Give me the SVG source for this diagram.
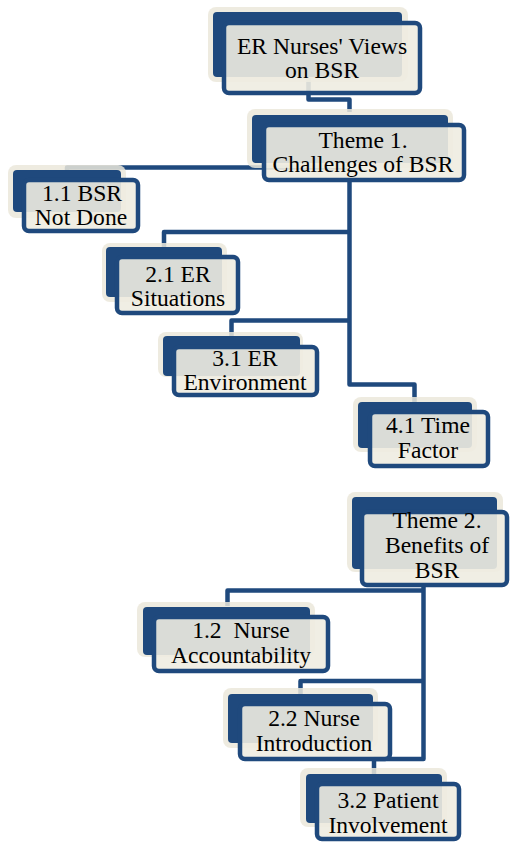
<svg xmlns="http://www.w3.org/2000/svg" width="510" height="842" viewBox="0 0 510 842">
<style>
.glow{fill:#EBE7DB;fill-opacity:0.85}
.back{fill:#1F497D}
.front{fill:#EEECE1;fill-opacity:0.9;stroke:#1F497D;stroke-width:4.5}
.conn{fill:none;stroke:#1F497D;stroke-width:4.5;stroke-linejoin:round}
.t{font-size:23.6px;fill:#000;text-anchor:middle}
</style>
<rect width="510" height="842" fill="#fff"/>
<g id="connectors">
<path class="conn" d="M308.5,78 V99.5 H349.5 V112"/>
<path class="conn" d="M349.5,167.5 H67 V178"/>
<path class="conn" d="M349.5,180 V384.5 H414.5 V402"/>
<path class="conn" d="M349.5,232 H164 V247"/>
<path class="conn" d="M349.5,320.5 H231.5 V336"/>
<path class="conn" d="M423.5,585 V759 H374 V774"/>
<path class="conn" d="M423.5,590.5 H227.5 V606"/>
<path class="conn" d="M423.5,681 H300.5 V694"/>
</g>
<g font-family="'Liberation Serif', 'Times New Roman', 'DejaVu Serif', serif">
<g id="root">
<rect class="glow" x="208" y="7" width="200" height="75" rx="8"/>
<rect class="back" x="213" y="12" width="189" height="65" rx="4"/>
<rect class="front" x="224" y="23" width="196" height="70" rx="5"/>
<text class="t" x="322" y="54">ER Nurses' Views</text>
<text class="t" x="322" y="78">on BSR</text>
</g>
<g id="theme1">
<rect class="glow" x="247" y="109" width="206" height="59" rx="8"/>
<rect class="back" x="252" y="115" width="196" height="48" rx="4"/>
<rect class="front" x="264" y="125" width="200" height="55" rx="5"/>
<text class="t" x="363" y="148">Theme 1.</text>
<text class="t" x="363" y="172">Challenges of BSR</text>
</g>
<g id="n1_1">
<rect class="glow" x="8" y="165" width="118" height="53" rx="8"/>
<rect class="back" x="13" y="170" width="108" height="42" rx="4"/>
<rect class="front" x="24" y="180" width="114" height="51" rx="5"/>
<text class="t" x="82" y="201">1.1 BSR</text>
<text class="t" x="81" y="225">Not Done</text>
</g>
<g id="n2_1">
<rect class="glow" x="102" y="243" width="125" height="59" rx="8"/>
<rect class="back" x="106" y="247" width="116" height="50" rx="4"/>
<rect class="front" x="117" y="257" width="121" height="56" rx="5"/>
<text class="t" x="178" y="282">2.1 ER</text>
<text class="t" x="178" y="306">Situations</text>
</g>
<g id="n3_1">
<rect class="glow" x="158" y="332" width="145" height="45" rx="8"/>
<rect class="back" x="163" y="336" width="137" height="40" rx="4"/>
<rect class="front" x="174" y="347" width="143" height="48" rx="5"/>
<text class="t" x="245" y="366">3.1 ER</text>
<text class="t" x="245" y="390">Environment</text>
</g>
<g id="n4_1">
<rect class="glow" x="353" y="397" width="124" height="55" rx="8"/>
<rect class="back" x="358" y="402" width="114" height="46" rx="4"/>
<rect class="front" x="370" y="412" width="118" height="54" rx="5"/>
<text class="t" x="428" y="433">4.1 Time</text>
<text class="t" x="428" y="458">Factor</text>
</g>
<g id="theme2">
<rect class="glow" x="347" y="492" width="156" height="80" rx="8"/>
<rect class="back" x="352" y="497" width="145" height="72" rx="4"/>
<rect class="front" x="362" y="512" width="145" height="73" rx="5"/>
<text class="t" x="437" y="528">Theme 2.</text>
<text class="t" x="437" y="553">Benefits of</text>
<text class="t" x="437" y="578">BSR</text>
</g>
<g id="n1_2">
<rect class="glow" x="137" y="602" width="178" height="55" rx="8"/>
<rect class="back" x="143" y="607" width="167" height="48" rx="4"/>
<rect class="front" x="154" y="617" width="174" height="54" rx="5"/>
<text class="t" x="241" y="638" xml:space="preserve">1.2  Nurse</text>
<text class="t" x="241" y="663">Accountability</text>
</g>
<g id="n2_2">
<rect class="glow" x="223" y="688" width="155" height="60" rx="8"/>
<rect class="back" x="228" y="694" width="145" height="49" rx="4"/>
<rect class="front" x="240" y="704" width="150" height="55" rx="5"/>
<text class="t" x="314" y="726">2.2 Nurse</text>
<text class="t" x="314" y="751">Introduction</text>
</g>
<g id="n3_2">
<rect class="glow" x="300" y="768" width="147" height="59" rx="8"/>
<rect class="back" x="306" y="774" width="136" height="49" rx="4"/>
<rect class="front" x="317" y="784" width="142" height="55" rx="5"/>
<text class="t" x="388" y="808">3.2 Patient</text>
<text class="t" x="388" y="833">Involvement</text>
</g>
</g>
</svg>
